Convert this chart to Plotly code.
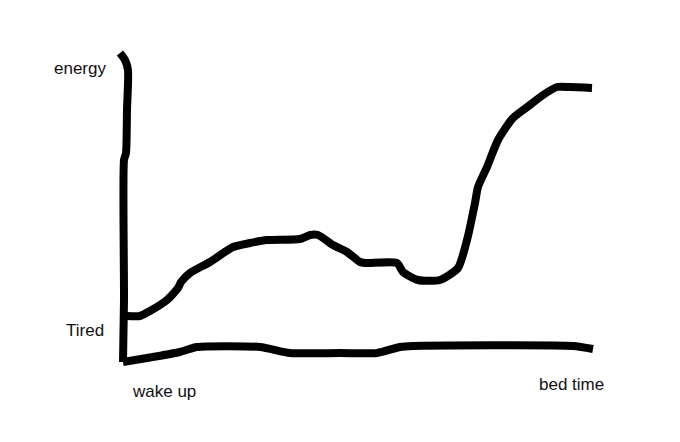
import plotly.graph_objects as go

# hand-drawn strokes (page pixel units)
axis_x = [120, 125, 128, 127, 126, 124, 124, 123]
axis_y = [53, 60, 70, 110, 153, 160, 300, 362]

base_x = [123, 153, 180, 197, 260, 290, 340, 377, 400, 413, 573, 593]
base_y = [362, 357, 352, 347, 347, 353, 353, 353, 347, 346, 346, 349]

energy_x = [127, 140, 150, 167, 178, 181, 190, 210, 233, 250, 267, 300, 310,
            318, 333, 347, 360, 365, 397, 403, 418, 440, 458, 467, 475, 478,
            487, 498, 513, 530, 543, 557, 570, 592]
energy_y = [316, 316, 311, 300, 288, 282, 273, 262, 247, 243, 240, 239, 235,
            235, 245, 252, 262, 263, 263, 272, 280, 280, 268, 240, 203, 187,
            167, 140, 118, 105, 95, 87, 87, 88]

labels = ["energy", "Tired", "wake up", "bed time"]
label_x = [52, 64, 130, 537]
label_y = [68, 330, 391, 384]

# page body has an 8px margin, so the ranges start at 8 to line up with the window
off = 8

fig = go.Figure()
for xs, ys in [(axis_x, axis_y), (base_x, base_y), (energy_x, energy_y)]:
    fig.add_trace(go.Scatter(x=xs, y=ys, mode='lines',
                             line=dict(color='black', width=8, shape='spline', smoothing=0.6),
                             hoverinfo='skip', showlegend=False))

for t, lx, ly in zip(labels, label_x, label_y):
    fig.add_annotation(x=lx, y=ly, text=t, showarrow=False, xanchor='left', yanchor='middle',
                       font=dict(family='Liberation Sans, Arial', size=17, color='#111'))

fig.update_xaxes(range=[off, 680 + off], visible=False, fixedrange=True)
fig.update_yaxes(range=[442 + off, off], visible=False, fixedrange=True)
fig.update_layout(width=680, height=442, margin=dict(l=0, r=0, t=0, b=0),
                  paper_bgcolor='white', plot_bgcolor='white')

fig.write_html("out.html")
